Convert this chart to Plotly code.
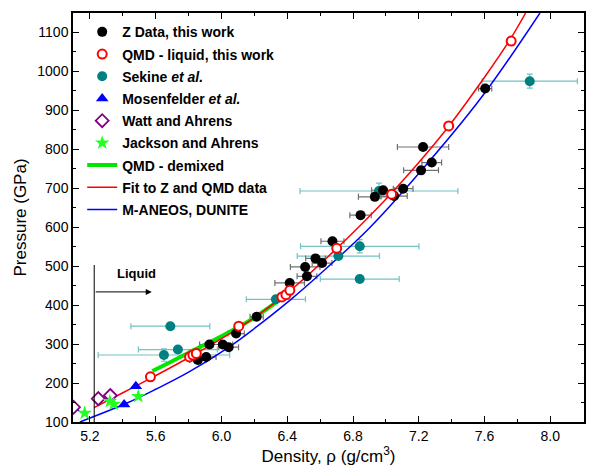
import plotly.graph_objects as go

# ---------------- data ----------------
z_rho = [5.856, 5.907, 5.927, 6.008, 6.044, 6.089, 6.214, 6.415, 6.509, 6.520, 6.572,
         6.612, 6.675, 6.846, 6.933, 6.983, 7.050, 7.105, 7.214, 7.226, 7.279, 7.604]
z_p = [259, 267, 299, 299, 292, 327, 370, 457, 498, 474, 520,
       508, 564, 631, 678, 695, 680, 699, 746, 806, 766, 956]
z_drho = [0.05, 0.06, 0.06, 0.06, 0.06, 0.05, 0.04, 0.09, 0.09, 0.06, 0.06,
          0.06, 0.07, 0.065, 0.10, 0.07, 0.08, 0.06, 0.106, 0.156, 0.06, 0.04]

qmd_rho = [5.568, 5.806, 5.826, 5.847, 6.105, 6.368, 6.392, 6.416, 6.701, 7.035, 7.382, 7.762]
qmd_p = [216, 267, 272, 276, 346, 421, 427, 438, 546, 685, 860, 1078]

sek_rho = [5.689, 5.735, 5.650, 6.331, 6.711, 6.841, 6.841, 6.958, 7.875]
sek_p = [346, 286, 272, 415, 526, 551, 467, 693, 975]
sek_drho = [0.24, 0.24, 0.40, 0.18, 0.25, 0.36, 0.24, 0.48, 0.29]
sek_dp = [0, 0, 16, 0, 0, 17, 0, 20, 18]

mos_rho = [5.100, 5.408, 5.479]
mos_p = [135, 145, 192]

watt_rho = [5.100, 5.251, 5.324]
watt_p = [138, 160, 168]

jack_rho = [5.168, 5.321, 5.345, 5.494]
jack_p = [123, 153, 146, 166]

demix_rho = [5.58, 5.70, 5.80, 5.90, 6.00, 6.10, 6.20, 6.35]
demix_p = [231, 256, 278, 299, 320, 343, 368, 412]

fit_rho = [5.225, 5.40, 5.568, 5.80, 6.00, 6.10, 6.20, 6.42, 6.70, 6.90, 7.035, 7.20, 7.38, 7.60, 7.76, 7.85]
fit_p = [137, 175, 212, 265, 314, 340, 368, 438, 545, 628, 688, 766, 858, 985, 1085, 1150]

aneos_rho = [5.139, 5.422, 5.60, 5.80, 6.048, 6.20, 6.412, 6.60, 6.897, 7.20, 7.584, 7.937]
aneos_p = [100, 148, 184, 228, 293, 340, 411, 480, 597, 738, 935, 1150]

x_ticks = [5.2, 5.6, 6.0, 6.4, 6.8, 7.2, 7.6, 8.0]
y_ticks = [100, 200, 300, 400, 500, 600, 700, 800, 900, 1000, 1100]

liquid_rho = 5.226

FONT = "Arial, Liberation Sans, sans-serif"

fig = go.Figure()

# error bars (behind everything)
fig.add_trace(go.Scatter(
    x=sek_rho, y=sek_p, mode="markers", marker=dict(size=1, opacity=0),
    error_x=dict(type="data", array=sek_drho, color="#74C2C2", thickness=1.2, width=3),
    error_y=dict(type="data", array=sek_dp, color="#74C2C2", thickness=1.2, width=3),
    showlegend=False, hoverinfo="skip"))
fig.add_trace(go.Scatter(
    x=z_rho, y=z_p, mode="markers", marker=dict(size=1, opacity=0),
    error_x=dict(type="data", array=z_drho, color="#707070", thickness=1.2, width=3),
    showlegend=False, hoverinfo="skip"))

# lines
fig.add_trace(go.Scatter(
    x=demix_rho, y=demix_p, mode="lines", name="QMD - demixed", legendgroup="g7",
    line=dict(color="#00E600", width=4, shape="spline"), legendrank=7))
fig.add_trace(go.Scatter(
    x=fit_rho, y=fit_p, mode="lines", name="Fit to Z and QMD data", legendgroup="g8",
    line=dict(color="#FF0000", width=1.5, shape="spline"), legendrank=8))
fig.add_trace(go.Scatter(
    x=aneos_rho, y=aneos_p, mode="lines", name="M-ANEOS, DUNITE", legendgroup="g9",
    line=dict(color="#0000FF", width=1.5, shape="spline"), legendrank=9))

# markers
fig.add_trace(go.Scatter(
    x=sek_rho, y=sek_p, mode="markers", name="Sekine <i>et al.</i>", legendgroup="g3",
    marker=dict(symbol="circle", size=10, color="#008080"), legendrank=3))
fig.add_trace(go.Scatter(
    x=z_rho, y=z_p, mode="markers", name="Z Data, this work", legendgroup="g1",
    marker=dict(symbol="circle", size=10, color="#000000"), legendrank=1))
fig.add_trace(go.Scatter(
    x=qmd_rho, y=qmd_p, mode="markers", name="QMD - liquid, this work", legendgroup="g2",
    marker=dict(symbol="circle", size=9, color="#FFFFFF",
                line=dict(color="#FF0000", width=2)), legendrank=2))
fig.add_trace(go.Scatter(
    x=mos_rho, y=mos_p, mode="markers", name="Mosenfelder <i>et al.</i>", legendgroup="g4",
    marker=dict(symbol="triangle-up", size=11, color="#0000FF"), legendrank=4))
fig.add_trace(go.Scatter(
    x=watt_rho, y=watt_p, mode="markers", name="Watt and Ahrens", legendgroup="g5",
    marker=dict(symbol="diamond", size=10, color="#FFFFFF",
                line=dict(color="#800080", width=1.8)), legendrank=5))
fig.add_trace(go.Scatter(
    x=jack_rho, y=jack_p, mode="markers", name="Jackson and Ahrens", legendgroup="g6",
    marker=dict(symbol="star", size=11, color="#22FF22", line=dict(width=0)), legendrank=6))

# Liquid boundary
fig.add_shape(type="line", x0=liquid_rho, x1=liquid_rho, y0=100, y1=503,
              line=dict(color="#000000", width=1))
fig.add_annotation(x=5.576, y=434, ax=liquid_rho, ay=434, xref="x", yref="y",
                   axref="x", ayref="y", showarrow=True, arrowhead=2, arrowsize=1.2,
                   arrowwidth=1, arrowcolor="#000000", text="")
fig.add_annotation(x=5.482, y=482, text="<b>Liquid</b>", showarrow=False,
                   font=dict(family=FONT, size=13, color="#000000"))

axis_common = dict(
    showline=True, linecolor="#000000", linewidth=1.5, mirror="ticks",
    ticks="inside", ticklen=6, tickwidth=1.2, tickcolor="#000000",
    showgrid=False, zeroline=False,
    tickfont=dict(family=FONT, size=14, color="#000000"),
)

fig.update_xaxes(
    range=[5.097, 8.205], tickvals=x_ticks, ticktext=[f"{v:.1f}" for v in x_ticks],
    minor=dict(ticks="inside", ticklen=3, tickwidth=1.2, tickcolor="#000000", dtick=0.2, tick0=5.2),
    title=dict(text="Density, ρ (g/cm<sup>3</sup>)", font=dict(family=FONT, size=17, color="#000000"),
               standoff=8),
    **axis_common)
fig.update_yaxes(
    range=[100, 1150], tickvals=y_ticks,
    minor=dict(ticks="inside", ticklen=3, tickwidth=1.2, tickcolor="#000000", dtick=50, tick0=100),
    title=dict(text="Pressure (GPa)", font=dict(family=FONT, size=17, color="#000000"),
               standoff=6),
    **axis_common)

fig.update_layout(
    width=589, height=470,
    margin=dict(l=73, r=3, t=13, b=48),
    paper_bgcolor="#FFFFFF", plot_bgcolor="#FFFFFF",
    font=dict(family=FONT, color="#000000"),
    showlegend=True,
    legend=dict(x=0.018, y=0.992, xanchor="left", yanchor="top",
                bgcolor="rgba(0,0,0,0)", borderwidth=0, traceorder="grouped",
                tracegroupgap=1,
                font=dict(family=FONT, size=14, color="#000000", weight="bold")),
)

fig.write_html("out.html", config={"displayModeBar": False},
               post_script="document.body.style.margin='0';")
